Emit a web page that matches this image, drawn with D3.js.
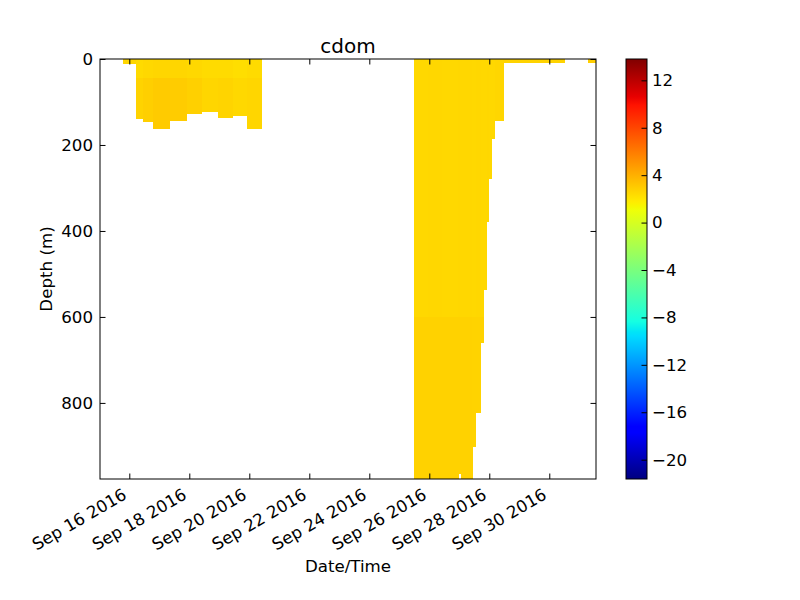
<!DOCTYPE html>
<html>
<head>
<meta charset="utf-8">
<script src="https://cdn.jsdelivr.net/npm/d3@7"></script>
<style>
  body { margin: 0; background: #fff; }
  text { font-family: "DejaVu Sans", sans-serif; fill: #000; }
</style>
</head>
<body>
<svg id="chart" width="800" height="600"></svg>
<script>
// glider profiles: start / end time, deepest sample, cdom above and below splitDepth
const profileStart = [
  '2016-09-15T19:00', '2016-09-16T05:45', '2016-09-16T11:00', '2016-09-16T18:48',
  '2016-09-17T08:24', '2016-09-17T22:00', '2016-09-18T10:00', '2016-09-18T22:48',
  '2016-09-19T10:48', '2016-09-19T22:00',
  '2016-09-25T11:30', '2016-09-25T23:00', '2016-09-26T10:00', '2016-09-26T23:00',
  '2016-09-27T01:12', '2016-09-27T10:17', '2016-09-27T13:00', '2016-09-27T17:00',
  '2016-09-27T19:40', '2016-09-27T21:50', '2016-09-27T23:40', '2016-09-28T01:40',
  '2016-09-28T04:20', '2016-09-28T11:00', '2016-10-01T06:45'
]
const profileEnd = [
  '2016-09-16T05:45', '2016-09-16T11:00', '2016-09-16T18:48', '2016-09-17T08:24',
  '2016-09-17T22:00', '2016-09-18T10:00', '2016-09-18T22:48', '2016-09-19T10:48',
  '2016-09-19T22:00', '2016-09-20T10:00',
  '2016-09-25T23:00', '2016-09-26T10:00', '2016-09-26T23:00', '2016-09-27T01:12',
  '2016-09-27T10:17', '2016-09-27T13:00', '2016-09-27T17:00', '2016-09-27T19:40',
  '2016-09-27T21:50', '2016-09-27T23:40', '2016-09-28T01:40', '2016-09-28T04:20',
  '2016-09-28T11:00', '2016-09-30T12:30', '2016-10-01T14:00'
]
const profileDepth = [
  10, 139, 146, 162, 143, 127, 123, 135, 131, 162,
  977, 977, 977, 965, 977, 902, 823, 660, 537, 379, 277, 184, 142, 9, 9
]
const splitDepth = [
  10, 45, 45, 45, 45, 45, 45, 45, 45, 45,
  600, 600, 600, 600, 600, 600, 600, 600, 600, 600, 600, 600, 600, 9, 9
]
const cdomShallow = [
  2.6, 2.4, 2.5, 2.6, 2.6, 2.5, 2.4, 2.4, 2.3, 2.4,
  2.5, 2.55, 2.5, 2.55, 2.55, 2.5, 2.55, 2.5, 2.5, 2.55, 2.5, 2.5, 2.6, 2.7, 2.9
]
const cdomDeep = [
  2.6, 2.7, 2.85, 3.0, 2.95, 2.8, 2.6, 2.65, 2.5, 2.6,
  2.75, 2.75, 2.75, 2.75, 2.75, 2.7, 2.7, 2.7, 2.7, 2.7, 2.7, 2.7, 2.7, 2.7, 2.9
]

const cdomMin = -21.63
const cdomMax = 13.8
const dateTicks = ['2016-09-16', '2016-09-18', '2016-09-20', '2016-09-22',
  '2016-09-24', '2016-09-26', '2016-09-28', '2016-09-30']
const depthTicks = [0, 200, 400, 600, 800]
const cdomTicks = [-20, -16, -12, -8, -4, 0, 4, 8, 12]

const parseTime = d3.utcParse('%Y-%m-%dT%H:%M')
const parseDay = d3.utcParse('%Y-%m-%d')

const svg = d3.select('#chart')
const plot = { left: 100, right: 596, top: 59, bottom: 479 }
const fs = 16.67

let xScale = d3.scaleUtc()
  .domain([parseTime('2016-09-15T00:33'), parseTime('2016-10-01T13:22')])
  .range([plot.left, plot.right])
let yScale = d3.scaleLinear().domain([0, 977]).range([plot.top, plot.bottom])

// matplotlib "jet"
const jetR = d3.scaleLinear().domain([0, 0.35, 0.66, 0.89, 1]).range([0, 0, 1, 1, 0.5]).clamp(true)
const jetG = d3.scaleLinear().domain([0, 0.125, 0.375, 0.64, 0.91, 1]).range([0, 0, 1, 1, 0, 0]).clamp(true)
const jetB = d3.scaleLinear().domain([0, 0.11, 0.34, 0.65, 1]).range([0.5, 1, 1, 0, 0]).clamp(true)
function jet (n) {
  return d3.rgb(jetR(n) * 255, jetG(n) * 255, jetB(n) * 255).formatHex()
}
let norm = d3.scaleLinear().domain([cdomMin, cdomMax]).range([0, 1])
const colour = v => jet(norm(v))

svg.append('defs').append('clipPath').attr('id', 'clip')
  .append('rect')
  .attr('x', plot.left).attr('y', plot.top)
  .attr('width', plot.right - plot.left).attr('height', plot.bottom - plot.top)

// split each profile into a shallow and a deep band
let bands = []
profileStart.forEach((s, i) => {
  let t0 = parseTime(s), t1 = parseTime(profileEnd[i])
  let split = Math.min(splitDepth[i], profileDepth[i])
  bands.push({ t0, t1, d0: 0, d1: split, v: cdomShallow[i] })
  if (profileDepth[i] > split) bands.push({ t0, t1, d0: split, d1: profileDepth[i], v: cdomDeep[i] })
})

svg.append('g').attr('clip-path', 'url(#clip)')
  .attr('shape-rendering', 'crispEdges')
  .selectAll('rect').data(bands).enter()
  .append('rect')
  .attr('x', d => xScale(d.t0))
  .attr('y', d => yScale(d.d0))
  .attr('width', d => xScale(d.t1) - xScale(d.t0) + 0.5)
  .attr('height', d => yScale(d.d1) - yScale(d.d0) + 0.5)
  .style('fill', d => colour(d.v))

// axes, ticks pointing inward on all four sides
let xAxis = d3.axisBottom(xScale).tickValues(dateTicks.map(parseDay))
  .tickFormat(d3.utcFormat('%b %d %Y')).tickSizeInner(-5.5).tickSizeOuter(0)
let gx = svg.append('g').attr('transform', `translate(0, ${plot.bottom})`).call(xAxis)
gx.selectAll('text')
  .attr('y', 0).attr('dy', 0)
  .attr('text-anchor', 'end')
  .attr('transform', 'translate(-2, 19) rotate(-30)')

svg.append('g').attr('transform', `translate(0, ${plot.top})`)
  .call(d3.axisTop(xScale).tickValues(dateTicks.map(parseDay)).tickFormat('').tickSizeInner(-5.5).tickSizeOuter(0))

svg.append('g').attr('transform', `translate(${plot.left}, 0)`)
  .call(d3.axisLeft(yScale).tickValues(depthTicks).tickSizeInner(-5.5).tickSizeOuter(0).tickPadding(7))
svg.append('g').attr('transform', `translate(${plot.right}, 0)`)
  .call(d3.axisRight(yScale).tickValues(depthTicks).tickFormat('').tickSizeInner(-5.5).tickSizeOuter(0))

svg.selectAll('.domain').remove()
svg.selectAll('.tick line').attr('stroke', '#000')
svg.selectAll('.tick text').style('font-size', fs + 'px').attr('fill', '#000')

svg.append('rect')
  .attr('x', plot.left).attr('y', plot.top)
  .attr('width', plot.right - plot.left).attr('height', plot.bottom - plot.top)
  .attr('fill', 'none').attr('stroke', '#000').attr('stroke-width', 1)

svg.append('text').attr('x', (plot.left + plot.right) / 2).attr('y', 53)
  .attr('text-anchor', 'middle').style('font-size', '20px').text('cdom')
svg.append('text').attr('x', (plot.left + plot.right) / 2).attr('y', 572)
  .attr('text-anchor', 'middle').style('font-size', fs + 'px').text('Date/Time')
svg.append('text')
  .attr('transform', `translate(52, ${(plot.top + plot.bottom) / 2}) rotate(-90)`)
  .attr('text-anchor', 'middle').style('font-size', fs + 'px').text('Depth (m)')

// colorbar
const cb = { left: 626, right: 647 }
let cScale = d3.scaleLinear().domain([cdomMin, cdomMax]).range([plot.bottom, plot.top])
let grad = svg.select('defs').append('linearGradient').attr('id', 'jet')
  .attr('x1', 0).attr('y1', 1).attr('x2', 0).attr('y2', 0)
const stops = [0, 0.11, 0.125, 0.34, 0.35, 0.375, 0.64, 0.65, 0.66, 0.89, 0.91, 1]
grad.selectAll('stop').data(stops).enter().append('stop')
  .attr('offset', d => d).attr('stop-color', d => jet(d))

svg.append('rect')
  .attr('x', cb.left).attr('y', plot.top)
  .attr('width', cb.right - cb.left).attr('height', plot.bottom - plot.top)
  .attr('fill', 'url(#jet)').attr('stroke', '#000').attr('stroke-width', 1)

let gc = svg.append('g').attr('transform', `translate(${cb.right}, 0)`)
  .call(d3.axisRight(cScale).tickValues(cdomTicks).tickSizeInner(-5.5).tickSizeOuter(0).tickPadding(5)
    .tickFormat(d => d < 0 ? '\u2212' + Math.abs(d) : d))
gc.select('.domain').remove()
gc.selectAll('.tick line').attr('stroke', '#000')
gc.selectAll('.tick text').style('font-size', fs + 'px').attr('fill', '#000')
</script>
</body>
</html>
